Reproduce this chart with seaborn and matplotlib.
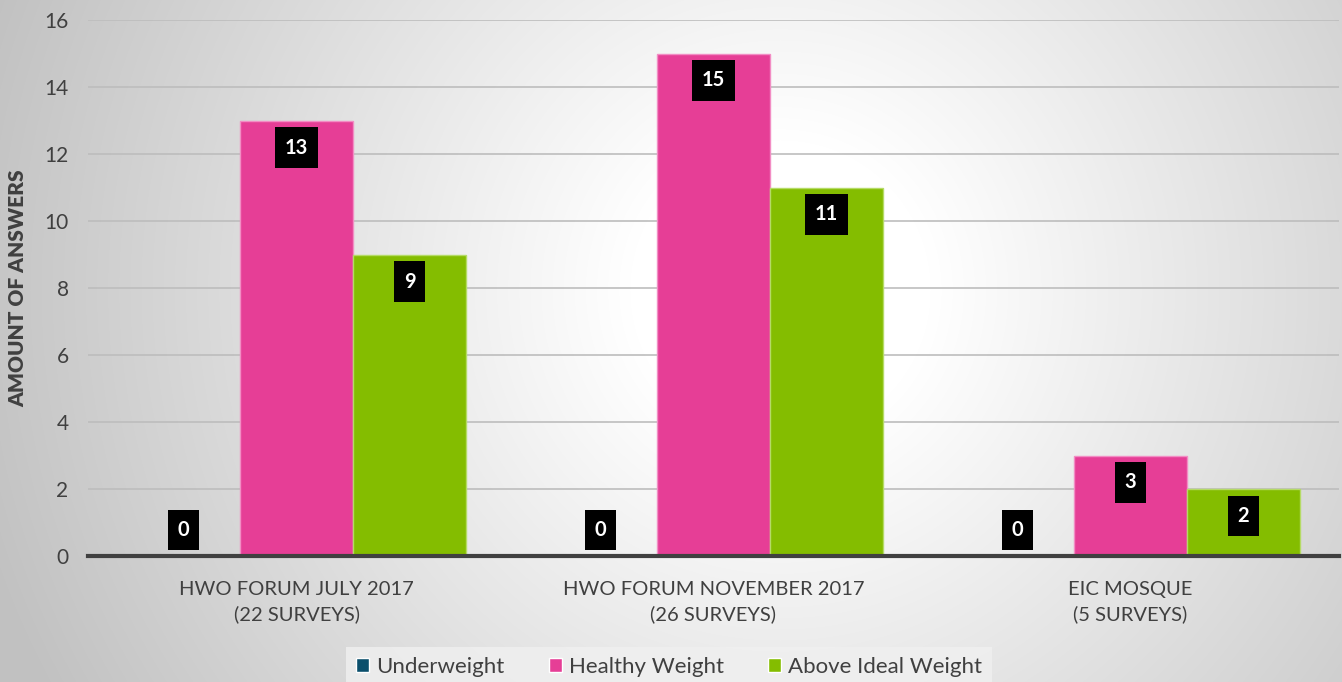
import numpy as np
import pandas as pd
import matplotlib
matplotlib.use("Agg")
import matplotlib.pyplot as plt
import seaborn as sns

categories = ["HWO FORUM JULY 2017\n(22 SURVEYS)",
              "HWO FORUM NOVEMBER 2017\n(26 SURVEYS)",
              "EIC MOSQUE\n(5 SURVEYS)"]
series = ["Underweight", "Healthy Weight", "Above Ideal Weight"]
underweight = [0, 0, 0]
healthy = [13, 15, 3]
above_ideal = [9, 11, 2]
colors = ["#0B4F6C", "#E63E96", "#84BD00"]
edge_colors = ["#5a8aa0", "#F28DC4", "#B5DB66"]
y_ticks = [0, 2, 4, 6, 8, 10, 12, 14, 16]
y_label = "AMOUNT OF ANSWERS"

df = pd.DataFrame({
    "category": categories * 3,
    "series": [s for s in series for _ in categories],
    "value": underweight + healthy + above_ideal,
})

sns.set_theme(style="white")
plt.rcParams["font.family"] = ["Lato", "DejaVu Sans"]

W, H = 1342, 682
fig = plt.figure(figsize=(W / 100, H / 100), dpi=100)

# radial gradient background
bg = fig.add_axes([0, 0, 1, 1], zorder=-10)
yy, xx = np.mgrid[0:H, 0:W]
r = np.sqrt((xx - 780) ** 2 + ((yy - 290) * 1.0) ** 2)
t = np.clip((r - 150) / 680, 0, 1)
g = 1.0 - t * 0.24
img = np.dstack([g, g, g])
bg.imshow(img, aspect="auto", extent=[0, 1, 0, 1], origin="upper")
bg.set_axis_off()

ax = fig.add_axes([88 / W, (H - 556) / H, (1339 - 88) / W, (556 - 20) / H])
ax.set_facecolor("none")

sns.barplot(data=df, x="category", y="value", hue="series", hue_order=series,
            palette=colors, width=0.813, gap=0, ax=ax, errorbar=None,
            saturation=1, zorder=3)

for cont, ec in zip(ax.containers, edge_colors):
    for bar in cont:
        bar.set_edgecolor(ec)
        bar.set_linewidth(1.0)
    for bar in cont:
        v = bar.get_height()
        xc = bar.get_x() + bar.get_width() / 2
        off = -27 if v > 0 else 26
        ax.annotate(f"{int(v)}", xy=(xc, v), xytext=(0, off),
                    textcoords="offset pixels", ha="center", va="center",
                    color="white", fontsize=14.5, fontweight="bold", zorder=6,
                    bbox=dict(boxstyle="square,pad=0.5", fc="black", ec="none"))

ax.set_ylim(0, 16)
ax.set_xlim(-0.5, 2.5)
ax.set_yticks(y_ticks)
ax.set_yticklabels([str(v) for v in y_ticks], fontsize=15, color="#404040")
ax.yaxis.grid(True, color="#bdbdbd", linewidth=1.2, zorder=0)
ax.set_axisbelow(True)
for s in ["top", "right", "left"]:
    ax.spines[s].set_visible(False)
ax.spines["bottom"].set_color("#404040")
ax.spines["bottom"].set_linewidth(3)
ax.spines["bottom"].set_zorder(5)
ax.tick_params(axis="y", length=0, pad=14)
ax.tick_params(axis="x", length=0, pad=18)
ax.set_xticks(range(len(categories)))
ax.set_xticklabels(categories, fontsize=14.5, color="#404040", linespacing=1.5)
ax.set_xlabel("")
ax.set_ylabel(y_label, fontsize=15, fontweight="heavy", color="#404040", labelpad=12)

leg = ax.legend(loc="center", bbox_to_anchor=(669 / W, (H - 667) / H),
                bbox_transform=fig.transFigure, ncol=3, frameon=True,
                fontsize=16, handlelength=0.6, handleheight=0.6,
                handletextpad=0.3, columnspacing=2.0, borderpad=0.45,
                fancybox=False)
leg.get_frame().set_facecolor("#f0f0f0")
leg.get_frame().set_edgecolor("none")
for txt in leg.get_texts():
    txt.set_color("#404040")

fig.savefig("out.png", dpi=100)
